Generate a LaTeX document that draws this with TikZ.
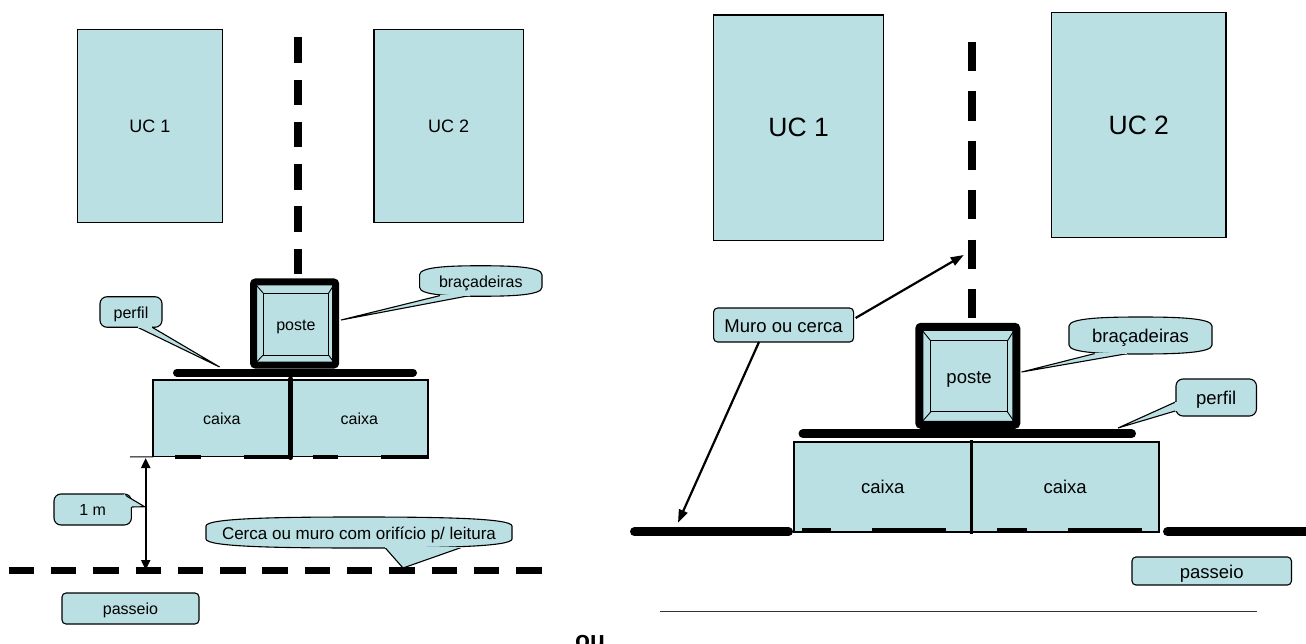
\documentclass[tikz,border=0pt]{standalone}
\usepackage{fontspec}
\setmainfont{Liberation Sans}
\usetikzlibrary{shapes,arrows.meta}
\definecolor{ucfill}{rgb}{0.73,0.88,0.89}
\tikzstyle{labelsmall}=[font=\fontsize{16}{16}\selectfont, text height=12.3pt, text depth=0pt]
\tikzstyle{labelwide}=[font=\fontsize{17}{17}\selectfont, text height=13.1pt, text depth=0pt]
\tikzstyle{labelbig}=[font=\fontsize{18.5}{18.5}\selectfont, text height=14.2pt, text depth=0pt]
\tikzstyle{ucbox}=[rectangle, draw, line width=1.2pt, fill=ucfill, inner sep=0pt, outer sep=0pt]
\tikzstyle{bubblebox}=[rectangle, draw, line width=1.1pt, fill=ucfill, rounded corners=7pt, inner sep=0pt, outer sep=0pt]
\tikzstyle{plainbox}=[bubblebox, rounded corners=4pt]
\tikzstyle{bowline}=[draw, line width=1.1pt, fill=ucfill]
\tikzstyle{posteout}=[rectangle, draw, fill=ucfill, rounded corners=2pt, inner sep=0pt, outer sep=0pt]
\tikzstyle{postein}=[rectangle, draw, line width=1pt, fill=ucfill, inner sep=0pt, outer sep=0pt]
\tikzstyle{perfilbar}=[line width=8pt, line cap=round]
\tikzstyle{wallbar}=[line width=9pt, line cap=round]
\tikzstyle{slotbar}=[line width=4.5pt]
\tikzstyle{fenceleft}=[line width=7.4pt, dash pattern=on 25.4pt off 16.9pt]
\tikzstyle{fenceright}=[line width=8.3pt, dash pattern=on 29.3pt off 20.1pt]
\tikzstyle{dimarrow}=[line width=2pt, {Triangle[length=10pt,width=9pt]}-{Triangle[length=10pt,width=9pt]}]
\tikzstyle{muroarrow}=[line width=2.2pt, -{Triangle[length=13pt,width=9pt]}]
\newcommand{\ucnode}[5]{
	\node[ucbox, minimum width=#3pt, minimum height=#4pt, #5] at (#2) {#1};}
\newcommand{\bubble}[6]{
	\node[bubblebox, minimum width=#3pt, minimum height=#4pt, #5] (#1) at (#2) {#6};}
\newcommand{\bowbubble}[6]{
	\node[inner sep=0pt, outer sep=0pt, minimum width=#3pt, minimum height=#4pt] (#1o) at (#2) {};
	\path[bowline] ([shift={(0,9)}]#1o.north west) .. controls ([shift={(0,1)}]#1o.north west) and ([shift={({.25*#3},0)}]#1o.north west) .. (#1o.north)
		.. controls ([shift={({.75*#3},0)}]#1o.north west) and ([shift={({#3},1)}]#1o.north west) .. ([shift={({#3},9)}]#1o.north west)
		-- ([shift={({#3},-9)}]#1o.south west)
		.. controls ([shift={({#3},-1)}]#1o.south west) and ([shift={({.75*#3},0)}]#1o.south west) .. (#1o.south)
		.. controls ([shift={({.25*#3},0)}]#1o.south west) and ([shift={(0,-1)}]#1o.south west) .. ([shift={(0,-9)}]#1o.south west) -- cycle;
	\node[inner sep=0pt, #5] (#1) at (#1o) {#6};}
\newcommand{\calltail}[3]{
	\fill[ucfill] (#1) -- (#2) -- (#3) -- cycle;
	\draw[line width=1.1pt, line join=miter] (#1) -- (#2) -- (#3);
	\draw[ucfill, line width=1.6pt] (#1) -- (#3);}
\newcommand{\postenode}[8]{
	\node[posteout, line width=#7pt, minimum width=#3pt, minimum height=#4pt] (#1o) at (#2) {};
	\node[postein, minimum width=#5pt, minimum height=#6pt, #8] (#1) at ([shift={(1.3,0.6)}]#1o) {poste};
	\draw[line width=0.9pt] (#1o.north west) -- (#1.north west);
	\draw[line width=0.9pt] (#1o.north east) -- (#1.north east);
	\draw[line width=0.9pt] (#1o.south west) -- (#1.south west);
	\draw[line width=0.9pt] (#1o.south east) -- (#1.south east);}

\begin{document}
\begin{tikzpicture}[x=1pt,y=-1pt]
\useasboundingbox (0,0) rectangle (1306,644);

\ucnode{UC 1}{149.8,126.2}{145}{193}{font=\fontsize{18}{18}\selectfont}
\ucnode{UC 2}{448.7,126.2}{149.3}{193}{font=\fontsize{18}{18}\selectfont}
\draw[fenceleft] (298,37.3) -- (298,274);
\postenode{poste}{294.6,323.5}{82}{83}{65.5}{62}{7}{labelsmall}
\draw[perfilbar] (177,372.7) -- (413,372.7);
\node[ucbox, minimum width=137.7pt, minimum height=76.7pt, labelsmall] (caixaa) at (221.9,418.4) {caixa};
\node[ucbox, minimum width=137.3pt, minimum height=76.7pt, labelsmall] (caixab) at (359.4,418.4) {caixa};
\draw[line width=5pt, line cap=round] (290.7,379) -- (290.7,457.5);
\draw[slotbar] (175,457) -- (201,457);
\draw[slotbar] (243.5,457) -- (289,457);
\draw[slotbar] (312.5,457) -- (337.5,457);
\draw[slotbar] (381,457) -- (429,457);
\draw[line width=1pt] (130,457) -- (caixaa.south west);

\bubble{perfila}{131,312}{62}{30.5}{labelsmall}{perfil}
\coordinate (perfilatip) at (219.6,367);
\calltail{137.5,327.2}{perfilatip}{152,327.2}
\bowbubble{bracoa}{480.8,281}{122.4}{30.5}{labelsmall}{braçadeiras}
\coordinate (bracoatip) at (341,320);
\calltail{440,295.6}{bracoatip}{469.6,295.6}

\coordinate (dimtop) at (145.7,458);
\coordinate (dimbot) at (145.7,570);
\draw[dimarrow] (dimtop) -- (dimbot);
\bubble{umetro}{92.7,509.5}{77.4}{31}{labelsmall}{1 m}
\coordinate (umetrotip) at (144.6,506.7);
\calltail{124,494.5}{umetrotip}{131.2,507}

\bowbubble{cerca}{359,532.5}{306}{31}{labelwide}{Cerca ou muro com orifício p/ leitura}
\coordinate (cercatip) at (403,568);
\calltail{385,547.6}{cercatip}{461,547.6}
\draw[fenceleft] (8.6,570.7) -- (541.6,570.7);
\node[plainbox, minimum width=137pt, minimum height=31pt, labelsmall] (passeioa) at (130.5,608.5) {passeio};

\ucnode{UC 1}{798.6,127.8}{169.6}{225.7}{font=\fontsize{26.5}{26.5}\selectfont}
\ucnode{UC 2}{1138.8,125}{174.3}{225.4}{font=\fontsize{26.5}{26.5}\selectfont}
\draw[fenceright] (972,42) -- (972,318.3);
\postenode{posteb}{967.8,375.8}{97}{98}{76.7}{71}{8}{labelbig}
\draw[wallbar] (803,433.7) -- (1131.5,433.7);
\node[ucbox, line width=2pt, minimum width=178pt, minimum height=90pt, labelbig] (caixac) at (882.7,486.7) {caixa};
\node[ucbox, line width=2pt, minimum width=186.8pt, minimum height=90pt, labelbig] (caixad) at (1065.1,486.7) {caixa};
\draw[line width=3.5pt] (971.7,440) -- (971.7,533.5);
\draw[slotbar] (801.5,530.7) -- (831,530.7);
\draw[slotbar] (872,530.7) -- (946,530.7);
\draw[slotbar] (997,530.7) -- (1027,530.7);
\draw[slotbar] (1068,530.7) -- (1142,530.7);
\draw[wallbar] (634.5,531.7) -- (788.5,531.7);
\draw[wallbar] (1167.5,531.7) -- (1312,531.7);

\bowbubble{bracob}{1140.5,335.5}{143}{37}{labelbig}{braçadeiras}
\coordinate (bracobtip) at (1021.6,372);
\calltail{1094.6,353.6}{bracobtip}{1127.4,353.6}
\bubble{perfilb}{1216.2,397.5}{80.5}{37}{labelbig}{perfil}
\coordinate (perfilbtip) at (1118,428);
\calltail{1176.2,401.7}{perfilbtip}{1176.2,410.7}
\node[plainbox, minimum width=140pt, minimum height=34pt, labelbig] (muro) at (783.6,325) {Muro ou cerca};
\coordinate (muroup) at (963.8,255);
\coordinate (murodown) at (678,522.7);
\draw[muroarrow] ([shift={(2,-7)}]muro.east) -- (muroup);
\draw[muroarrow] ([xshift=-24.6pt]muro.south) -- (murodown);
\node[plainbox, minimum width=159.5pt, minimum height=28pt, labelbig] (passeiob) at (1211.7,571) {passeio};
\draw[line width=1.2pt, black!80] (660,611.7) -- (1256.5,611.7);

\node[anchor=base, font=\fontsize{24.5}{24.5}\selectfont\bfseries, inner sep=0pt] (ounode) at (590,648) {ou};
\end{tikzpicture}
\end{document}
